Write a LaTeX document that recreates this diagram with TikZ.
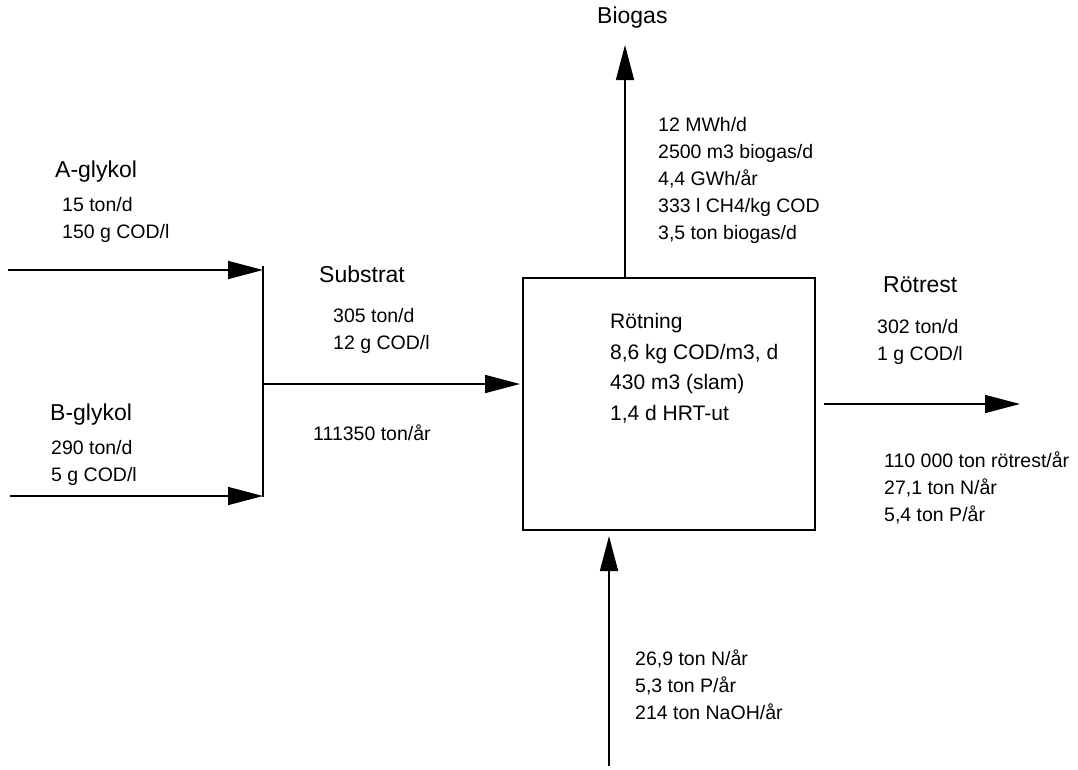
\documentclass[tikz,border=0pt]{standalone}
\usepackage{fontspec}
\setmainfont{Liberation Sans}
\usetikzlibrary{arrows.meta}
\begin{document}
\begin{tikzpicture}[x=1pt,y=-1pt,
  line/.style={line width=1.6pt, black},
  arr/.style={line, -{Triangle[length=35pt,width=18pt]}},
  head/.style={inner sep=0pt, anchor=west, font=\fontsize{23}{27}\selectfont},
  small/.style={inner sep=0pt, anchor=west, align=left, font=\fontsize{19.5}{27}\selectfont},
  boxtxt/.style={inner sep=0pt, anchor=west, align=left, font=\fontsize{21}{30.5}\selectfont}]
\useasboundingbox (0,0) rectangle (1078,769);
% box
\node[draw, line width=1.6pt, minimum width=292pt, minimum height=252pt, inner sep=0pt] (rot) at (669,404) {};
\node[boxtxt] (rottxt) at (610,368) {Rötning\\8,6 kg COD/m3, d\\430 m3 (slam)\\1,4 d HRT-ut};
% coordinates
\coordinate (ain) at (8,270);
\coordinate (ja) at (263,270);
\coordinate (jtop) at (263,266);
\coordinate (bin) at (10,496);
\coordinate (jb) at (263,496);
\coordinate (jbot) at (263,497);
\coordinate (js) at (263,384);
\coordinate (sin) at (520,384);
\coordinate (bg) at (625,45);
\coordinate (bgs) at (625,278);
\coordinate (bot) at (609,766);
\coordinate (bott) at (609,536);
\coordinate (rs) at (824,404);
\coordinate (rout) at (1020,404);
% connectors
\draw[arr] (ain) -- (ja);
\draw[arr] (bin) -- (jb);
\draw[line] (jtop) -- (jbot);
\draw[arr] (js) -- (sin);
\draw[arr] (bgs) -- (bg);
\draw[arr] (bot) -- (bott);
\draw[arr] (rs) -- (rout);
% labels
\node[head] (la) at (55,172) {A-glykol};
\node[small] (la2) at (62,219.5) {15 ton/d\\150 g COD/l};
\node[head] (lb) at (50,415) {B-glykol};
\node[small] (lb2) at (51,462.5) {290 ton/d\\5 g COD/l};
\node[head] (ls) at (319,274) {Substrat};
\node[small] (ls2) at (333,331) {305 ton/d\\12 g COD/l};
\node[small] (ls3) at (313,433) {111350 ton/år};
\node[head] (lbg) at (597,18) {Biogas};
\node[small] (lbg2) at (658,180.5) {12 MWh/d\\2500 m3 biogas/d\\4,4 GWh/år\\333 l CH4/kg COD\\3,5 ton biogas/d};
\node[head] (lr) at (883,285) {Rötrest};
\node[small] (lr2) at (877,341.5) {302 ton/d\\1 g COD/l};
\node[small] (lr3) at (884,487.5) {110 000 ton rötrest/år\\27,1 ton N/år\\5,4 ton P/år};
\node[small] (lbt) at (635,684.5) {26,9 ton N/år\\5,3 ton P/år\\214 ton NaOH/år};
\end{tikzpicture}
\end{document}
